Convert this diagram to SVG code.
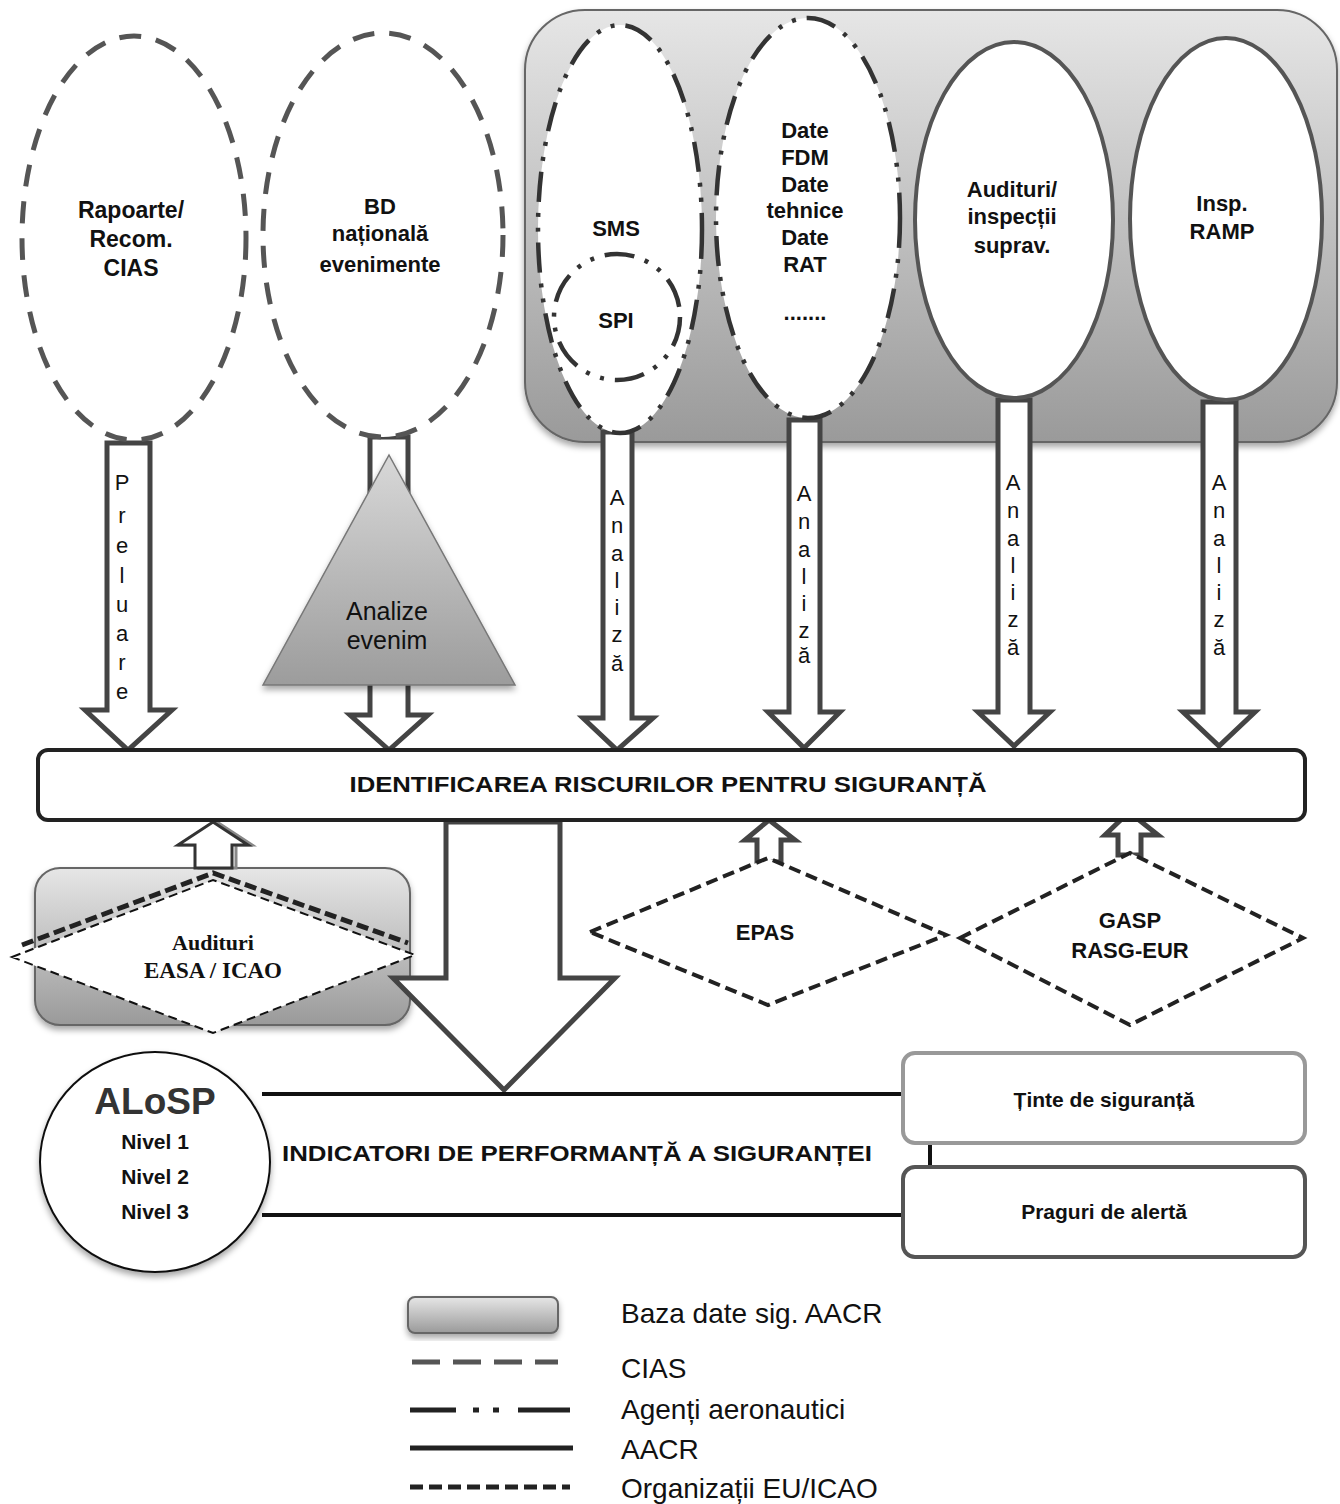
<svg xmlns="http://www.w3.org/2000/svg" width="1340" height="1504" viewBox="0 0 1340 1504">
<defs>
<linearGradient id="gbox" x1="0" y1="0" x2="0" y2="1"><stop offset="0" stop-color="#e6e6e6"/><stop offset="1" stop-color="#9a9a9a"/></linearGradient>
<linearGradient id="gtri" x1="0" y1="0" x2="0" y2="1"><stop offset="0" stop-color="#d8d8d8"/><stop offset="1" stop-color="#9c9c9c"/></linearGradient>
<filter id="sh" x="-10%" y="-10%" width="125%" height="130%"><feDropShadow dx="0" dy="4" stdDeviation="3" flood-color="#000" flood-opacity="0.35"/></filter>
<style>
.db{fill:url(#gbox);stroke:#666;stroke-width:2}
.cias{fill:#fff;stroke:#555;stroke-width:5;stroke-dasharray:22 15}
.agent{fill:#fff;stroke:#333;stroke-width:4.5;stroke-dasharray:30 11 4 11 4 11}
.aacr{fill:#fff;stroke:#555;stroke-width:4}
.eu{fill:#fff;stroke:#222;stroke-width:4;stroke-dasharray:12 6}
.arr{fill:#fff;stroke:#444;stroke-width:5;stroke-linejoin:miter}
.ln{stroke:#111;stroke-width:4;fill:none}
.t{font-family:"Liberation Sans",Arial,sans-serif;font-weight:bold;font-size:22px;fill:#111;text-anchor:middle}
.v{font-family:"Liberation Sans",Arial,sans-serif;font-size:22px;fill:#111;text-anchor:middle}
.lg{font-family:"Liberation Sans",Arial,sans-serif;font-size:28px;fill:#111}
</style>
</defs>
<rect width="1340" height="1504" fill="#fff"/>

<g id="baza-date-aacr">
<rect class="db" x="525" y="10" width="812" height="432" rx="60" filter="url(#sh)"/>
</g>

<g id="audituri-easa-icao">
<rect class="db" x="35" y="868" width="375" height="157" rx="25" filter="url(#sh)"/>
<polygon points="12,957 213,880 415,955 213,1033" fill="#fff" stroke="#111" stroke-width="2" stroke-dasharray="9 5"/>
<polyline points="22,945 213,873 408,943" fill="none" stroke="#222" stroke-width="5" stroke-dasharray="12 5"/>
<text x="213" y="950" style="font-family:'Liberation Serif','Times New Roman',serif;font-weight:bold;font-size:22px;fill:#111;text-anchor:middle">Audituri</text>
<text x="213" y="978" style="font-family:'Liberation Serif','Times New Roman',serif;font-weight:bold;font-size:23px;fill:#111;text-anchor:middle">EASA / ICAO</text>
</g>

<g id="connectors">
<path class="arr" d="M107,443 H150 V710 H172 L128,750 L85,710 H107 Z"/>
<path class="arr" d="M370,437 H408 V715 H428 L389,750 L350,715 H370 Z"/>
<path class="arr" d="M603,432 H632 V718 H653 L617,750 L583,718 H603 Z"/>
<path class="arr" d="M789,420 H820 V712 H840 L804,748 L768,712 H789 Z"/>
<path class="arr" d="M998,400 H1030 V712 H1050 L1014,746 L978,712 H998 Z"/>
<path class="arr" d="M1203,402 H1236 V712 H1255 L1219,746 L1183,712 H1203 Z"/>
<path class="arr" d="M446,822 H560 V978 H615 L504,1090 L393,978 H446 Z" stroke="#333"/>
<path d="M199,868 V845 H182 L217,822 L252,845 H236 V868 Z" fill="#fff" stroke="#888" stroke-width="3"/>
<path d="M195,868 V845 H178 L213,822 L248,845 H232 V868 Z" fill="#fff" stroke="#333" stroke-width="3"/>
<path class="arr" d="M757,862 V840 H745 L769,820 L795,840 H781 V862 Z" stroke="#222" stroke-width="4"/>
<path class="arr" d="M1118,855 V835 H1105 L1129,812 L1158,835 H1141 V855 Z" stroke="#222" stroke-width="4"/>
<line class="ln" x1="262" y1="1094" x2="903" y2="1094"/>
<line class="ln" x1="262" y1="1215" x2="903" y2="1215"/>
<line class="ln" x1="930" y1="1143" x2="930" y2="1167"/>
<text class="v"><tspan x="122" y="490">P</tspan><tspan x="122" y="523">r</tspan><tspan x="122" y="553">e</tspan><tspan x="122" y="583">l</tspan><tspan x="122" y="612">u</tspan><tspan x="122" y="641">a</tspan><tspan x="122" y="670">r</tspan><tspan x="122" y="699">e</tspan></text>
<text class="v"><tspan x="617" y="505">A</tspan><tspan x="617" y="533">n</tspan><tspan x="617" y="561">a</tspan><tspan x="617" y="588">l</tspan><tspan x="617" y="615">i</tspan><tspan x="617" y="642">z</tspan><tspan x="617" y="671">ă</tspan></text>
<text class="v"><tspan x="804" y="501">A</tspan><tspan x="804" y="529">n</tspan><tspan x="804" y="557">a</tspan><tspan x="804" y="584">l</tspan><tspan x="804" y="611">i</tspan><tspan x="804" y="638">z</tspan><tspan x="804" y="663">ă</tspan></text>
<text class="v"><tspan x="1013" y="490">A</tspan><tspan x="1013" y="518">n</tspan><tspan x="1013" y="546">a</tspan><tspan x="1013" y="573">l</tspan><tspan x="1013" y="600">i</tspan><tspan x="1013" y="627">z</tspan><tspan x="1013" y="655">ă</tspan></text>
<text class="v"><tspan x="1219" y="490">A</tspan><tspan x="1219" y="518">n</tspan><tspan x="1219" y="546">a</tspan><tspan x="1219" y="573">l</tspan><tspan x="1219" y="600">i</tspan><tspan x="1219" y="627">z</tspan><tspan x="1219" y="655">ă</tspan></text>
</g>

<g id="rapoarte-cias">
<ellipse class="cias" cx="134" cy="238" rx="112" ry="202"/>
<text class="t" style="font-size:23px"><tspan x="131" y="218">Rapoarte/</tspan><tspan x="131" y="247">Recom.</tspan><tspan x="131" y="276">CIAS</tspan></text>
</g>

<g id="bd-nationala">
<ellipse class="cias" cx="383" cy="235" rx="120" ry="202"/>
<text class="t"><tspan x="380" y="214">BD</tspan><tspan x="380" y="241">națională</tspan><tspan x="380" y="272">evenimente</tspan></text>
</g>

<g id="analize-evenim">
<polygon points="389,455 515,685 263,685" fill="url(#gtri)" stroke="#777" stroke-width="1.5" filter="url(#sh)"/>
<text class="v" style="font-size:25px" x="387" y="620">Analize</text>
<text class="v" style="font-size:25px" x="387" y="649">evenim</text>
</g>

<g id="sms">
<ellipse class="agent" cx="620" cy="229" rx="82" ry="204"/>
<text class="t" x="616" y="236">SMS</text>
</g>

<g id="spi">
<circle class="agent" cx="617" cy="317" r="63"/>
<text class="t" x="616" y="328">SPI</text>
</g>

<g id="date-fdm">
<ellipse class="agent" cx="808" cy="218" rx="92" ry="200"/>
<text class="t"><tspan x="805" y="138">Date</tspan><tspan x="805" y="165">FDM</tspan><tspan x="805" y="192">Date</tspan><tspan x="805" y="218">tehnice</tspan><tspan x="805" y="245">Date</tspan><tspan x="805" y="272">RAT</tspan><tspan x="805" y="320">.......</tspan></text>
</g>

<g id="audituri-inspectii">
<ellipse class="aacr" cx="1014" cy="220" rx="99" ry="178"/>
<text class="t"><tspan x="1012" y="197">Audituri/</tspan><tspan x="1012" y="224">inspecții</tspan><tspan x="1012" y="253">suprav.</tspan></text>
</g>

<g id="insp-ramp">
<ellipse class="aacr" cx="1226" cy="219" rx="96" ry="181"/>
<text class="t"><tspan x="1222" y="211">Insp.</tspan><tspan x="1222" y="239">RAMP</tspan></text>
</g>

<g id="identificarea">
<rect x="38" y="750" width="1267" height="70" rx="10" fill="#fff" stroke="#222" stroke-width="4"/>
<text class="t" x="668" y="792" textLength="637" lengthAdjust="spacingAndGlyphs">IDENTIFICAREA  RISCURILOR  PENTRU  SIGURANȚĂ</text>
</g>

<g id="epas">
<polygon class="eu" points="590,932 768,858 946,935 768,1005"/>
<text class="t" x="765" y="940">EPAS</text>
</g>

<g id="gasp">
<polygon class="eu" points="960,938 1130,853 1303,938 1130,1025"/>
<text class="t"><tspan x="1130" y="928">GASP</tspan><tspan x="1130" y="958">RASG-EUR</tspan></text>
</g>

<g id="alosp">
<ellipse cx="155" cy="1162" rx="115" ry="110" fill="#fff" stroke="#111" stroke-width="2" filter="url(#sh)"/>
<text class="t" x="155" y="1114" style="font-size:37px;fill:#333">ALoSP</text>
<text class="t" x="155" y="1149" style="font-size:21px">Nivel 1</text>
<text class="t" x="155" y="1184" style="font-size:21px">Nivel 2</text>
<text class="t" x="155" y="1219" style="font-size:21px">Nivel 3</text>
</g>

<g id="indicatori">
<text class="t" x="577" y="1161" textLength="590" lengthAdjust="spacingAndGlyphs">INDICATORI  DE  PERFORMANȚĂ  A  SIGURANȚEI</text>
</g>

<g id="tinte">
<rect x="903" y="1053" width="402" height="90" rx="12" fill="#fff" stroke="#999" stroke-width="4"/>
<text class="t" x="1104" y="1107" style="font-size:21px">Ținte de siguranță</text>
</g>

<g id="praguri">
<rect x="903" y="1167" width="402" height="90" rx="12" fill="#fff" stroke="#555" stroke-width="4"/>
<text class="t" x="1104" y="1219" style="font-size:21px">Praguri de alertă</text>
</g>

<g id="legend">
<rect class="db" x="408" y="1297" width="150" height="36" rx="7" filter="url(#sh)"/>
<text class="lg" x="621" y="1323">Baza date sig. AACR</text>
<line x1="412" y1="1362" x2="558" y2="1362" stroke="#555" stroke-width="5" stroke-dasharray="28 13"/>
<text class="lg" x="621" y="1378">CIAS</text>
<line x1="410" y1="1410" x2="570" y2="1410" stroke="#222" stroke-width="5" stroke-dasharray="46 17 6 14 6 19 52"/>
<text class="lg" x="621" y="1419">Agenți aeronautici</text>
<line x1="410" y1="1448" x2="573" y2="1448" stroke="#222" stroke-width="5"/>
<text class="lg" x="621" y="1459">AACR</text>
<line x1="410" y1="1487" x2="570" y2="1487" stroke="#222" stroke-width="5" stroke-dasharray="13 6"/>
<text class="lg" x="621" y="1498">Organizații EU/ICAO</text>
</g>
</svg>
